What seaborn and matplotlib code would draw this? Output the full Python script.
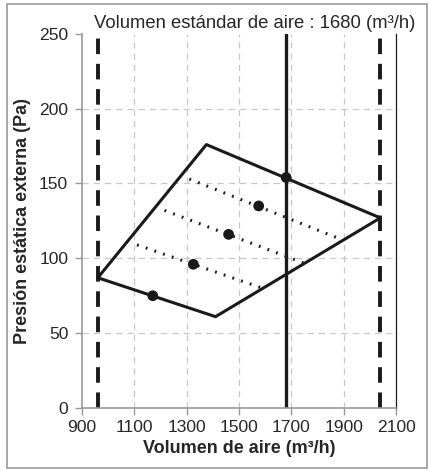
import numpy as np
import matplotlib.pyplot as plt
import pandas as pd
import seaborn as sns
from matplotlib.patches import Rectangle

# envelope of operating range (closed polygon)
env_x = [960, 1375, 2040, 1410, 960]
env_y = [87, 176, 127, 61, 87]

# dotted fan curves
fan_x = [[1110, 1590], [1215, 1745], [1310, 1885]]
fan_y = [[109, 80], [132, 97], [153, 113]]

# marked points
pts_x = [1170, 1325, 1460, 1575, 1680]
pts_y = [75, 96, 116, 135, 154]

limit_x = [960, 2040]
std_x = 1680

sns.set_style("white")
plt.rcParams['font.family'] = ['Liberation Sans', 'DejaVu Sans']

fig = plt.figure(figsize=(4.3, 4.7), dpi=100)
ax = fig.add_axes([0.191, 0.132, 0.73, 0.796])

for gx in [1100, 1300, 1500, 1700, 1900]:
    ax.axvline(gx, color='#c8c8c8', lw=0.9, ls=(0, (5, 4)), zorder=0)
for gy in [50, 100, 150, 200]:
    ax.axhline(gy, color='#c8c8c8', lw=0.9, ls=(0, (5, 4)), zorder=0)

env = pd.DataFrame({'x': env_x, 'y': env_y})
sns.lineplot(data=env, x='x', y='y', sort=False, estimator=None, color='#1a1a1a', lw=2.2, ax=ax)

for fx, fy in zip(fan_x, fan_y):
    sns.lineplot(x=fx, y=fy, sort=False, estimator=None, color='#1a1a1a', lw=2.2,
                 ls=(0, (0.6, 2.4)), ax=ax)

sns.scatterplot(x=pts_x, y=pts_y, color='#1a1a1a', s=60, edgecolor='none', zorder=5, ax=ax)

for lx in limit_x:
    ax.axvline(lx, color='#1a1a1a', lw=2.8, ls=(0, (4, 2.5)))
ax.axvline(std_x, color='#1a1a1a', lw=2.4)

ax.set_xlim(900, 2100)
ax.set_ylim(0, 250)
ax.set_xticks(range(900, 2101, 200))
ax.set_yticks(range(0, 251, 50))
ax.tick_params(axis='both', labelsize=12.6, color='#999999', length=5, width=1, direction='out',
               bottom=True, left=True)
ax.tick_params(axis='y', pad=5)
ax.tick_params(axis='x', pad=4)
ax.set_xlabel('Volumen de aire (m³/h)', fontsize=13, fontweight='bold', labelpad=3)
ax.set_ylabel('Presión estática externa (Pa)', fontsize=13, fontweight='bold', labelpad=6)
ax.set_title('Volumen estándar de aire : 1680 (m³/h)', fontsize=13.3, pad=4, x=0.55)

for side in ['left', 'bottom']:
    ax.spines[side].set_color('#999999')
    ax.spines[side].set_linewidth(1.2)
ax.spines['top'].set_visible(False)
ax.spines['right'].set_color('#1a1a1a')
ax.spines['right'].set_linewidth(0.9)

fig.patches.append(Rectangle((0.017, 0.004), 0.977, 0.988, transform=fig.transFigure,
                             fill=False, edgecolor='#999999', lw=1.2))

fig.savefig('out.png', dpi=100)
